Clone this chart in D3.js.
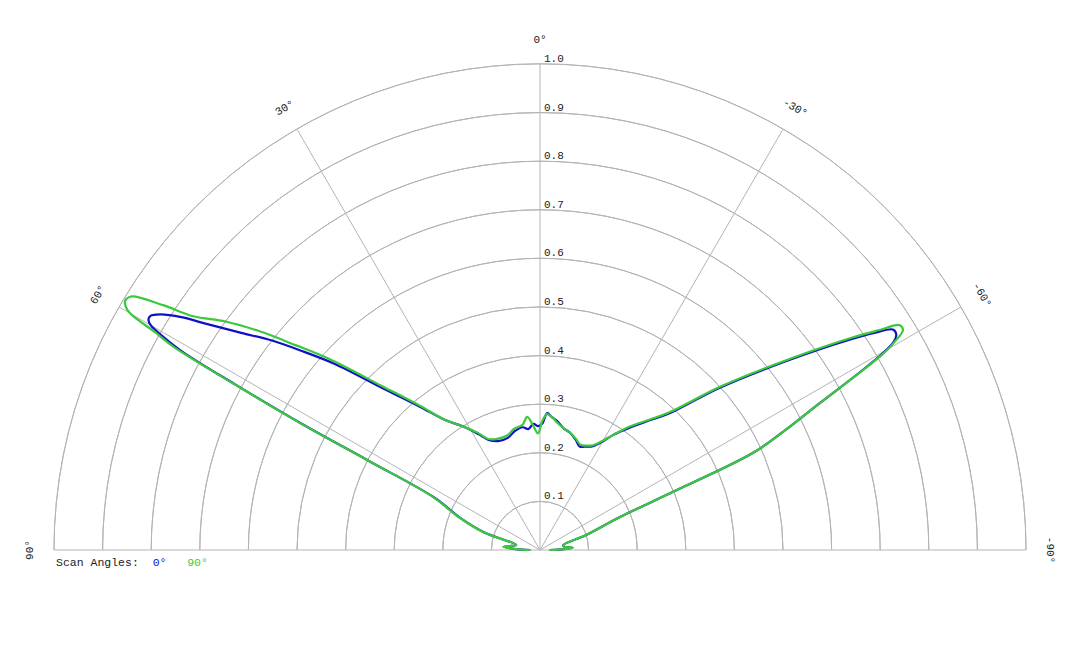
<!DOCTYPE html>
<html lang="en">
<head>
<meta charset="UTF-8">
<script src="https://d3js.org/d3.v7.min.js"></script>
<style>
  body { margin: 0; background: #fff; }
  text { font-family: "Liberation Mono", "DejaVu Sans Mono", monospace; font-size: 11px; fill: #222; }
</style>
</head>
<body>
<svg id="chart" width="1080" height="648"></svg>
<script>
// angle in degrees (positive = left of top), radius 0..1
const angles = [90, 88, 85, 82, 78, 72.5, 68, 63.6, 62.5, 62.1, 61.5, 61, 60.5, 60, 59.5, 59, 58.2, 57, 56, 54, 52, 50, 47.8, 44, 40, 36, 32, 28, 25, 21, 16, 12, 8, 5.5, 3, 1, -1, -3, -5, -7.5, -11, -14.4, -18, -21, -24, -27, -30, -32.4, -36, -40, -43.3, -47.8, -52.4, -55.8, -57, -58, -58.8, -59.5, -60.2, -61, -62.3, -64, -65.5, -66.4, -67.6, -72, -78, -82, -86, -88, -90];
const green = [0.02, 0.05, 0.076, 0.06, 0.05, 0.123, 0.18, 0.246, 0.401, 0.559, 0.719, 0.86, 0.91, 0.974, 0.99, 0.996, 0.99, 0.925, 0.86, 0.8, 0.73, 0.655, 0.585, 0.47, 0.39, 0.33, 0.3, 0.273, 0.252, 0.245, 0.245, 0.255, 0.26, 0.275, 0.255, 0.24, 0.265, 0.28, 0.275, 0.265, 0.255, 0.249, 0.24, 0.232, 0.235, 0.242, 0.26, 0.28, 0.314, 0.35, 0.39, 0.5, 0.641, 0.779, 0.83, 0.873, 0.873, 0.85, 0.815, 0.75, 0.651, 0.56, 0.481, 0.299, 0.178, 0.1, 0.049, 0.05, 0.068, 0.05, 0.02];
const blue = [0.02, 0.05, 0.074, 0.06, 0.05, 0.12, 0.178, 0.243, 0.398, 0.555, 0.712, 0.84, 0.89, 0.925, 0.935, 0.935, 0.92, 0.88, 0.835, 0.76, 0.7, 0.635, 0.57, 0.46, 0.385, 0.33, 0.3, 0.27, 0.25, 0.24, 0.24, 0.25, 0.255, 0.25, 0.26, 0.255, 0.26, 0.282, 0.275, 0.268, 0.255, 0.249, 0.238, 0.228, 0.233, 0.24, 0.258, 0.28, 0.31, 0.347, 0.385, 0.495, 0.635, 0.77, 0.82, 0.856, 0.857, 0.845, 0.81, 0.748, 0.65, 0.56, 0.481, 0.299, 0.178, 0.1, 0.049, 0.05, 0.066, 0.05, 0.02];
const ringTicks = [0.1, 0.2, 0.3, 0.4, 0.5, 0.6, 0.7, 0.8, 0.9, 1.0];
const spokeAngles = [90, 60, 30, 0, -30, -60, -90];
const series = [
  { name: "0°", values: blue, color: "#1010c8" },
  { name: "90°", values: green, color: "#3cc83c" }
];

const svg = d3.select("#chart");
const cx = 540, cy = 550, R = 486;
const r = d3.scaleLinear().domain([0, 1]).range([0, R]);
const g = svg.append("g").attr("transform", `translate(${cx},${cy})`);
const rad = a => -a * Math.PI / 180; // positive angles to the left

// rings
g.selectAll(".ring").data(ringTicks).enter().append("path")
  .attr("d", d => d3.arc()({ innerRadius: r(d), outerRadius: r(d), startAngle: -Math.PI / 2, endAngle: Math.PI / 2 }))
  .attr("fill", "none").attr("stroke", "#b4b4b4").attr("stroke-width", 1);

// spokes
g.selectAll(".spoke").data(spokeAngles).enter().append("line")
  .attr("x1", 0).attr("y1", 0)
  .attr("x2", d => R * Math.sin(rad(d))).attr("y2", d => -R * Math.cos(rad(d)))
  .attr("stroke", "#b4b4b4").attr("stroke-width", 1);

// radial labels
g.selectAll(".rlab").data(ringTicks).enter().append("text")
  .attr("x", 4).attr("y", d => -r(d) - 2)
  .text(d => d.toFixed(1));

// angle labels
g.selectAll(".alab").data(spokeAngles).enter().append("text")
  .attr("text-anchor", "middle")
  .attr("transform", d => {
    const rr = R + 25, a = rad(d);
    return `translate(${rr * Math.sin(a)},${-rr * Math.cos(a)}) rotate(${-d})`;
  })
  .attr("dy", "0.35em")
  .text(d => d + "°");

// curves
const line = d3.lineRadial()
  .angle((d, i) => rad(angles[i]))
  .radius(d => r(d))
  .curve(d3.curveCatmullRom.alpha(0.5));

g.selectAll(".curve").data(series).enter().append("path")
  .attr("d", d => line(d.values))
  .attr("fill", "none").attr("stroke", d => d.color).attr("stroke-width", 2.2)
  .attr("stroke-linejoin", "round");

// legend
const leg = svg.append("text").attr("x", 56).attr("y", 566)
  .style("font-size", "11.5px").attr("xml:space", "preserve").style("white-space", "pre");
leg.append("tspan").text("Scan Angles:  ");
series.forEach(s => leg.append("tspan").style("fill", s.color).text(s.name + "   "));
</script>
</body>
</html>
